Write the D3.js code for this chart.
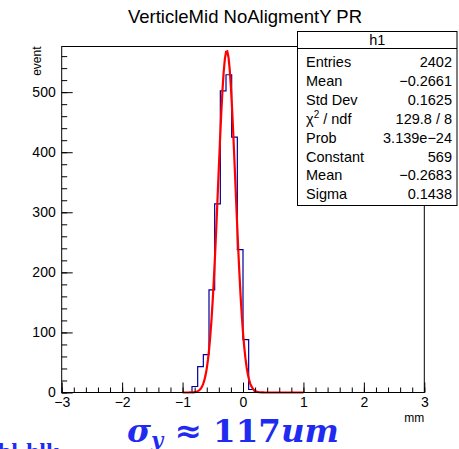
<!DOCTYPE html>
<html>
<head>
<meta charset="utf-8">
<script src="https://cdn.jsdelivr.net/npm/d3@7"></script>
<style>
  body { margin: 0; background: #fff; }
  svg { display: block; font-family: "Liberation Sans", Arial, sans-serif; }
</style>
</head>
<body>
<div id="chart"></div>
<script>
// histogram: 64 bins over [-3, 3], only the filled ones listed
const binWidth = 0.09375
const binLeft = [-0.84375, -0.75, -0.65625, -0.5625, -0.46875, -0.375, -0.28125, -0.1875, -0.09375, 0, 0.09375]
const counts = [10, 43, 63, 171, 314, 502, 529, 425, 238, 88, 5]

// gaus fit, as given in the stats box
const fitConstant = 569
const fitMean = -0.2683
const fitSigma = 0.1438
const fitRange = [-1, 1]

const xTicks = [-3, -2, -1, 0, 1, 2, 3]
const yTicks = [0, 100, 200, 300, 400, 500]

const statLabels = ['Entries', 'Mean', 'Std Dev', 'χ2 / ndf', 'Prob', 'Constant', 'Mean', 'Sigma']
const statValues = ['2402', '\u22120.2661', '0.1625', '129.8 / 8', '3.139e\u221224', '569', '\u22120.2683', '0.1438']

const W = 459, H = 449
const frame = { left: 61.7, right: 424.3, top: 46.5, bottom: 392.5 }

const svg = d3.select('#chart').append('svg')
  .attr('width', W)
  .attr('height', H)

const x = d3.scaleLinear().domain([-3, 3]).range([frame.left, frame.right])
const y = d3.scaleLinear().domain([0, 576]).range([frame.bottom, frame.top])

const minus = d => d3.format('')(d).replace('-', '\u2212')

// title
svg.append('text')
  .attr('x', 245).attr('y', 23)
  .attr('text-anchor', 'middle')
  .attr('font-size', 18.5)
  .attr('fill', '#000')
  .text('VerticleMid NoAligmentY PR')

// histogram outline, one step line over the whole range
const pts = [[-3, 0]]
binLeft.forEach((b, i) => {
  pts.push([b, i === 0 ? 0 : counts[i - 1]], [b, counts[i]])
})
const lastEdge = binLeft[binLeft.length - 1] + binWidth
pts.push([lastEdge, counts[counts.length - 1]], [lastEdge, 0], [3, 0])
svg.append('path')
  .attr('d', d3.line().x(d => x(d[0])).y(d => y(d[1]))(pts))
  .attr('fill', 'none')
  .attr('stroke', '#000099')
  .attr('stroke-width', 1.2)

// fit curve, 100 steps like ROOT's npx
const gaus = v => fitConstant * Math.exp(-0.5 * Math.pow((v - fitMean) / fitSigma, 2))
const fitPts = d3.range(0, 101).map(i => {
  const v = fitRange[0] + (fitRange[1] - fitRange[0]) * i / 100
  return [v, gaus(v)]
})
svg.append('path')
  .attr('d', d3.line().x(d => x(d[0])).y(d => y(d[1]))(fitPts))
  .attr('fill', 'none')
  .attr('stroke', '#ff0000')
  .attr('stroke-width', 2.2)

// frame
svg.append('rect')
  .attr('x', frame.left).attr('y', frame.top)
  .attr('width', frame.right - frame.left)
  .attr('height', frame.bottom - frame.top)
  .attr('fill', 'none')
  .attr('stroke', '#000')
  .attr('stroke-width', 1)

// x axis, ticks inside
const xMinor = d3.range(-3, 3.001, 0.2)
svg.append('g')
  .attr('transform', `translate(0, ${frame.bottom})`)
  .call(d3.axisBottom(x).tickValues(xMinor).tickSize(-5).tickFormat(''))
  .call(g => g.select('.domain').remove())
svg.append('g')
  .attr('class', 'xaxis')
  .attr('transform', `translate(0, ${frame.bottom})`)
  .call(d3.axisBottom(x).tickValues(xTicks).tickSize(-10).tickPadding(5).tickFormat(minus))
  .call(g => g.select('.domain').remove())
  .call(g => g.selectAll('text').attr('font-size', 14).attr('fill', '#000').attr('font-family', '"Liberation Sans", Arial, sans-serif'))

svg.append('text')
  .attr('x', frame.right).attr('y', 422)
  .attr('text-anchor', 'end')
  .attr('font-size', 12)
  .text('mm')

// y axis
const yMinor = d3.range(0, 577, 20)
svg.append('g')
  .attr('transform', `translate(${frame.left}, 0)`)
  .call(d3.axisLeft(y).tickValues(yMinor).tickSize(-5.5).tickFormat(''))
  .call(g => g.select('.domain').remove())
svg.append('g')
  .attr('transform', `translate(${frame.left}, 0)`)
  .call(d3.axisLeft(y).tickValues(yTicks).tickSize(-11).tickPadding(6).tickFormat(d3.format('d')))
  .call(g => g.select('.domain').remove())
  .call(g => g.selectAll('text').attr('font-size', 14).attr('fill', '#000').attr('font-family', '"Liberation Sans", Arial, sans-serif'))

svg.append('text')
  .attr('transform', `translate(41, ${frame.top}) rotate(-90)`)
  .attr('text-anchor', 'end')
  .attr('font-size', 12)
  .text('event')

// stats box
const box = { x: 297.5, y: 31.5, w: 159.5, h: 174 }
const sb = svg.append('g')
sb.append('rect')
  .attr('x', box.x).attr('y', box.y)
  .attr('width', box.w).attr('height', box.h)
  .attr('fill', '#fff').attr('stroke', '#000').attr('stroke-width', 1)
sb.append('line')
  .attr('x1', box.x).attr('x2', box.x + box.w)
  .attr('y1', 48.5).attr('y2', 48.5)
  .attr('stroke', '#000')
sb.append('text')
  .attr('x', box.x + box.w / 2).attr('y', 45)
  .attr('text-anchor', 'middle')
  .attr('font-size', 14.5)
  .text('h1')

const rowY = i => 67 + i * 18.9
statLabels.forEach((lab, i) => {
  const t = sb.append('text')
    .attr('x', 306).attr('y', rowY(i))
    .attr('font-size', 14.5)
  if (lab.startsWith('χ2')) {
    t.append('tspan').text('χ')
    t.append('tspan').attr('font-size', 10).attr('dy', -6).text('2')
    t.append('tspan').attr('dy', 6).text(' / ndf')
  } else {
    t.text(lab)
  }
  sb.append('text')
    .attr('x', 452).attr('y', rowY(i))
    .attr('text-anchor', 'end')
    .attr('font-size', 14.5)
    .text(statValues[i])
})

// annotation below the plot
const note = svg.append('text')
  .attr('x', 127).attr('y', 442)
  .attr('fill', '#1f2bf0')
  .attr('font-family', '"DejaVu Serif", "Liberation Serif", serif')
  .attr('font-weight', 'bold')
  .attr('font-size', 32.5)
note.append('tspan').attr('font-style', 'italic').text('σ')
note.append('tspan').attr('font-style', 'italic').attr('font-size', 21).attr('dy', 5).text('y')
note.append('tspan').attr('dy', -5).text(' ≈ 117')
note.append('tspan').attr('font-style', 'italic').text('um')

svg.append('text')
  .attr('x', -2).attr('y', 459)
  .attr('fill', '#1f2bf0')
  .attr('font-family', '"Liberation Serif", serif')
  .attr('font-weight', 'bold')
  .attr('font-size', 24)
  .text('bl·hlk')
</script>
</body>
</html>
